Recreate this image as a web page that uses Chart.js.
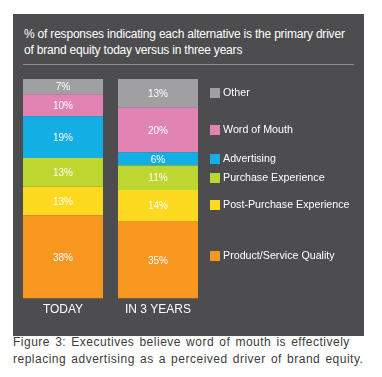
<!DOCTYPE html>
<html>
<head>
<meta charset="utf-8">
<script src="https://cdn.jsdelivr.net/npm/chart.js@4/dist/chart.umd.min.js"></script>
<style>
    body { margin: 0; background: #fff; width: 382px; height: 377px; position: relative; overflow: hidden; font-family: 'Liberation Sans', Arial, sans-serif; }
    .panel { position: absolute; left: 13px; top: 14px; width: 351px; height: 322px; background: #4d4d4f; }
    .title { position: absolute; left: 11px; top: 12px; color: #fff; font-size: 12px; line-height: 16px; letter-spacing: -0.2px; }
    .rule { position: absolute; left: 10px; top: 50px; width: 331px; height: 1px; background: #8e8e90; }
    .chart-box { position: absolute; left: 0; top: 56px; width: 351px; height: 251px; }
    .caption { position: absolute; left: 13px; top: 334px; color: #3c3c3c; font-size: 12px; line-height: 17px; letter-spacing: 0.5px; word-spacing: 1.3px; white-space: nowrap; }
</style>
</head>
<body>
<div class="panel">
    <div class="title">% of responses indicating each alternative is the primary driver<br>of brand equity today versus in three years</div>
    <div class="rule"></div>
    <div class="chart-box"><canvas id="driverChart"></canvas></div>
</div>
<div class="caption">Figure 3: Executives believe word of mouth is effectively<br>replacing advertising as a perceived driver of brand equity.</div>

<script>
// Data (bottom of stack first)
const categories = ['TODAY', 'IN 3 YEARS'];
const drivers = ['Product/Service Quality', 'Post-Purchase Experience', 'Purchase Experience', 'Advertising', 'Word of Mouth', 'Other'];
const today = [38, 13, 13, 19, 10, 7];
const inThreeYears = [35, 14, 11, 6, 20, 13];
const driverColors = ['#f7971f', '#fdd91f', '#bdd630', '#12aee4', '#e184b4', '#a0a0a3'];

// each column is drawn as share of its own total (3-year column sums to 99)
const sum = arr => arr.reduce((a, b) => a + b, 0);
const todayTotal = sum(today);
const futureTotal = sum(inThreeYears);

const datasets = drivers.map((name, i) => ({
    label: name,
    data: [today[i] / todayTotal * 100, inThreeYears[i] / futureTotal * 100],
    raw: [today[i], inThreeYears[i]],
    backgroundColor: driverColors[i],
    borderWidth: 0,
    barPercentage: 1,
    categoryPercentage: 80 / 95
}));

const fontFamily = "'Liberation Sans', Arial, sans-serif";

// value labels inside segments
const segmentLabels = {
    id: 'segmentLabels',
    afterDatasetsDraw(chart) {
        const ctx = chart.ctx;
        ctx.save();
        ctx.fillStyle = '#fff';
        ctx.font = '10px ' + fontFamily;
        ctx.textAlign = 'center';
        ctx.textBaseline = 'middle';
        chart.data.datasets.forEach((ds, i) => {
            chart.getDatasetMeta(i).data.forEach((bar, j) => {
                ctx.fillText(ds.raw[j] + '%', bar.x, (bar.y + bar.base) / 2 + 1);
            });
        });
        ctx.restore();
    }
};

// legend lined up with the 3-year segments
const sideLegend = {
    id: 'sideLegend',
    afterDatasetsDraw(chart) {
        const ctx = chart.ctx;
        ctx.save();
        ctx.font = '10.7px ' + fontFamily;
        ctx.textBaseline = 'middle';
        chart.data.datasets.forEach((ds, i) => {
            const bar = chart.getDatasetMeta(i).data[1];
            let y = Math.round((bar.y + bar.base) / 2);
            if (i === 0) y -= 4;
            ctx.fillStyle = ds.backgroundColor;
            ctx.fillRect(197, y - 5, 10, 10);
            ctx.fillStyle = '#fff';
            ctx.fillText(ds.label, 210, y + 0.5);
        });
        ctx.restore();
    }
};

const ctx = document.getElementById('driverChart').getContext('2d');
const driverChart = new Chart(ctx, {
    type: 'bar',
    data: {
        labels: categories,
        datasets: datasets
    },
    options: {
        responsive: true,
        maintainAspectRatio: false,
        animation: false,
        layout: {
            padding: { left: 2.5, right: 158.5, top: 9, bottom: 0 }
        },
        plugins: {
            legend: { display: false },
            tooltip: { enabled: false }
        },
        scales: {
            x: {
                stacked: true,
                grid: { display: false, drawTicks: false },
                border: { display: false },
                ticks: {
                    color: '#fff',
                    font: { family: fontFamily, size: 12 },
                    padding: 4
                }
            },
            y: {
                stacked: true,
                display: false,
                min: 0,
                max: 100
            }
        }
    },
    plugins: [segmentLabels, sideLegend]
});
</script>
</body>
</html>
